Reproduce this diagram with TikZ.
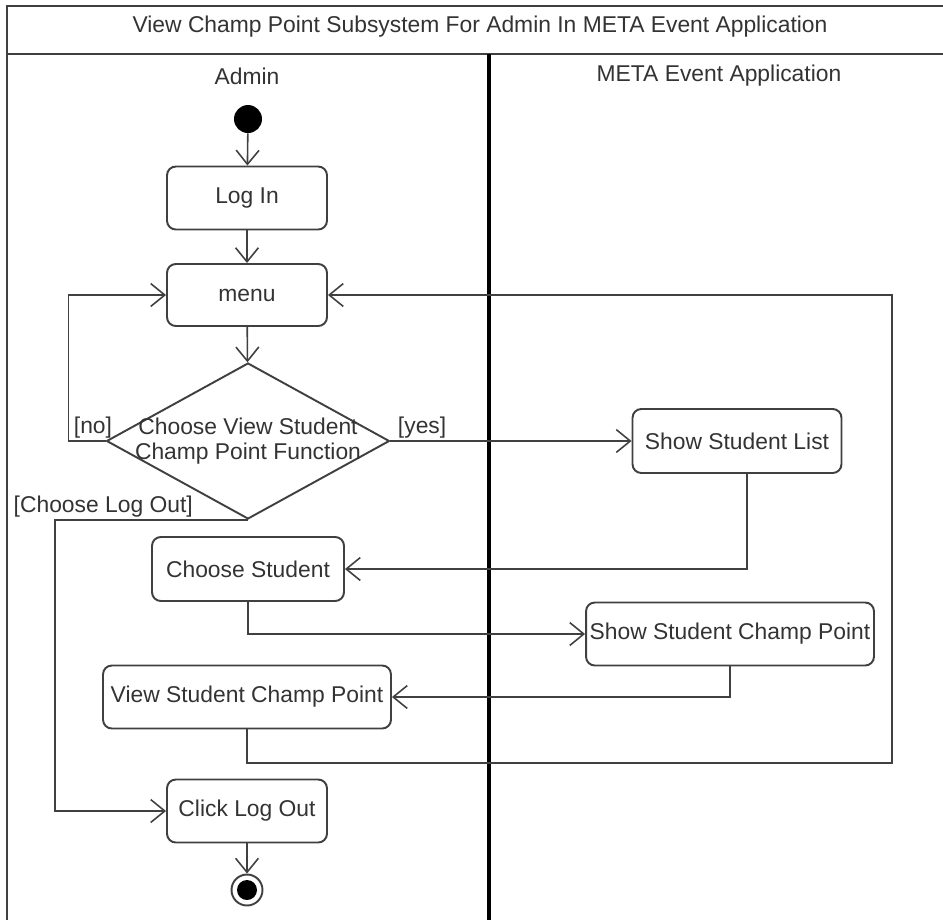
\documentclass[tikz,border=0pt]{standalone}
\usepackage{fontspec}
\setmainfont{Liberation Sans}
\usetikzlibrary{arrows.meta,shapes.geometric,positioning,calc}

\begin{document}
\begin{tikzpicture}[
    x=0.02cm, y=-0.02cm,
    font=\fontsize{13}{14.5}\selectfont, text=black!80,
    action/.style={draw=black!75, line width=1.1pt, rounded corners=5pt, align=center, inner sep=2pt},
    decision/.style={draw=black!75, line width=1.1pt, diamond, minimum width=5.66cm, minimum height=3.12cm, inner sep=0pt},
    arr/.style={-{Straight Barb[length=8pt,width=13pt]}, line width=0.9pt, draw=black!75},
    frame/.style={line width=1.4pt, draw=black!75},
    guard/.style={inner sep=1pt}
]
\useasboundingbox (0,0) rectangle (943,920);

% swimlane frame
\draw[frame] (943,6) -- (7,6) -- (7,920);
\draw[frame] (7,54) -- (943,54);
\draw[line width=2pt] (489,54) -- (489,920);
\node (title) at (480,27) {View Champ Point Subsystem For Admin In META Event Application};
\node (laneadmin) at (247,76) {Admin};
\node (laneapp) at (719,76) {META Event Application};

% activities
\node[circle, fill=black, minimum size=0.56cm, inner sep=0pt] (start) at (248,119) {};
\node[action, minimum width=3.2cm, minimum height=1.26cm] (login) at (247,198) {Log In};
\node[action, minimum width=3.2cm, minimum height=1.24cm] (menu) at (247,295) {menu};
\node[decision, label={[align=center, text=black!80]center:Choose View Student\\Champ Point Function}] (dec) at (248,441) {};
\node[action, minimum width=4.18cm, minimum height=1.28cm] (showlist) at (737,441) {Show Student List};
\node[action, minimum width=3.84cm, minimum height=1.28cm] (choose) at (248,569) {Choose Student};
\node[action, minimum width=5.76cm, minimum height=1.26cm] (showpoint) at (730,634) {Show Student Champ Point};
\node[action, minimum width=5.76cm, minimum height=1.26cm] (viewpoint) at (247,697) {View Student Champ Point};
\node[action, minimum width=3.2cm, minimum height=1.26cm] (logout) at (247,811) {Click Log Out};
\node[circle, draw=black!75, line width=1.1pt, minimum size=0.62cm, inner sep=0pt] (finish) at (247,890) {};
\node[circle, fill=black, minimum size=0.4cm, inner sep=0pt] (finishdot) at (finish) {};
\coordinate (loopback) at (892,763);

% flows
\draw[arr] (start) -- (login);
\draw[arr] (login) -- (menu);
\draw[arr] (menu) -- (dec);
\draw[arr] (dec.west) -- node[guard, pos=0, above left, xshift=0.18cm] {[no]} ++(-37,0) |- (menu.west);
\draw[arr] (dec.east) -- node[guard, pos=0, above right, xshift=0.1cm] {[yes]} (showlist.west);
\draw[arr] (dec.south) -- node[guard, pos=0.75, above] {[Choose Log Out]} ++(-193,0) |- (logout.west);
\draw[arr] ([xshift=0.2cm]showlist.south) |- (choose.east);
\draw[arr] (choose.south) |- (showpoint.west);
\draw[arr] (showpoint.south) |- (viewpoint.east);
\draw[arr] (viewpoint.south) |- (loopback) |- (menu.east);
\draw[arr] (logout) -- (finish);
\end{tikzpicture}
\end{document}
